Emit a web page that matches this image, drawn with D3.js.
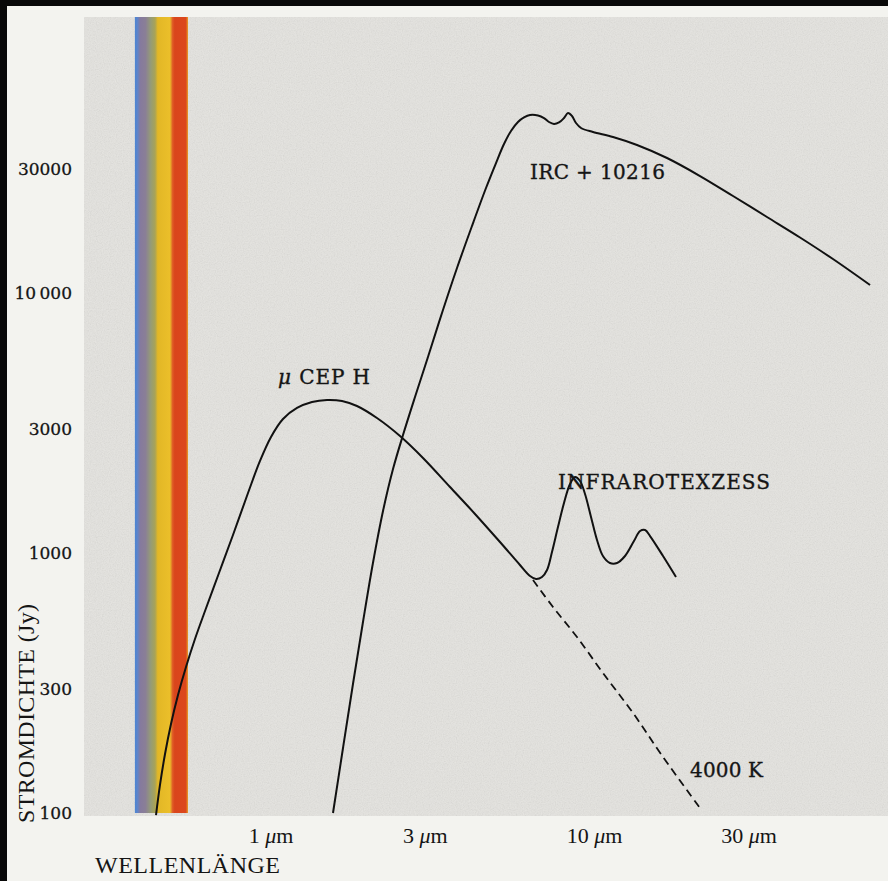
<!DOCTYPE html>
<html>
<head>
<meta charset="utf-8">
<script src="https://cdn.jsdelivr.net/npm/d3@7"></script>
<style>
  html, body { margin: 0; padding: 0; background: #f3f3ef; }
  svg { display: block; }
</style>
</head>
<body>
<div id="chart"></div>
<script>
// ---------- data ----------
const wavelengthTicks = [1, 3, 10, 30];                  // µm
const fluxTicks = [100, 300, 1000, 3000, 10000, 30000];  // Jy
const fluxTickLabels = ["100", "300", "1000", "3000", "10\u2009000", "30000"];

// mu Cep H (observed, with infrared excess)
const muCepWl   = [0.4428, 0.4555, 0.4721, 0.4926, 0.5178, 0.5481, 0.5843, 0.6275, 0.6931, 0.7657, 0.8521, 0.9280, 1.0036, 1.0930, 1.2075, 1.3436, 1.4954, 1.6633, 1.850, 2.133, 2.513, 2.960, 3.587, 4.285, 5.119, 5.901, 6.338, 6.615, 6.902, 7.153, 7.411, 7.733, 8.072, 8.425, 8.730, 9.046, 9.374, 9.782, 10.21, 10.65, 11.19, 11.77, 12.46, 13.28, 13.87, 14.37, 14.89, 16.33, 17.91];
const muCepFlux = [98.2, 128.2, 168.6, 220.0, 284.3, 364.3, 466.9, 598.2, 837.7, 1173, 1701, 2259, 2793, 3276, 3612, 3809, 3877, 3843, 3676, 3305, 2818, 2320, 1794, 1413, 1102, 899.2, 815.7, 794.3, 808.5, 860.2, 1009, 1259, 1557, 1842, 1960, 1892, 1686, 1376, 1122, 973.8, 915.2, 915.2, 973.8, 1112, 1215, 1226, 1162, 973.8, 808.5];

// 4000 K black body continuation (dashed)
const bb4000Wl   = [6.474, 7.464, 8.853, 10.65, 13.19, 16.33, 21.25];
const bb4000Flux = [787, 620, 475, 345.5, 242.5, 164.2, 104.5];

// IRC +10216
const ircWl   = [1.560, 1.6752, 1.7983, 1.931, 2.073, 2.2269, 2.391, 2.5673, 2.796, 3.0665, 3.388, 3.770, 4.194, 4.634, 4.976, 5.267, 5.536, 5.818, 6.073, 6.338, 6.708, 7.001, 7.254, 7.517, 7.790, 8.072, 8.304, 8.545, 8.792, 9.111, 9.922, 11.44, 13.57, 16.80, 21.25, 26.87, 34.21, 43.28, 54.72, 71.24];
const ircFlux = [100, 177.8, 313.4, 542.7, 915.2, 1451, 2104, 2843, 3981, 5673, 8377, 12480, 18100, 25340, 31620, 37420, 41980, 45470, 47320, 48370, 48160, 47100, 45470, 44670, 45270, 47100, 49240, 47950, 45060, 43110, 41610, 39810, 37090, 33050, 28180, 23610, 19600, 16350, 13510, 10730];

// visible band (µm)
const visibleBand = [0.381, 0.556];

// annotations (data coordinates)
const labelText = ["μ CEP H", "IRC + 10216", "INFRAROTEXZESS", "4000 K"];
const labelWl   = [1.055, 6.338, 7.733, 19.79];
const labelFlux = [4467, 27440, 1763, 137.5];

// ---------- drawing ----------
const W = 888, H = 881;
const svg = d3.select("#chart").append("svg").attr("width", W).attr("height", H);

const x = d3.scaleLog().domain([1, 10]).range([270.5, 594.1]);
const y = d3.scaleLog().domain([100, 10000]).range([813, 293]);

const plot = { left: 84, top: 17, right: 888, bottom: 816 };

const defs = svg.append("defs");
const f = defs.append("filter").attr("id", "paper").attr("x", 0).attr("y", 0).attr("width", 1).attr("height", 1);
f.append("feTurbulence").attr("type", "fractalNoise").attr("baseFrequency", 0.85).attr("numOctaves", 2).attr("seed", 4);
f.append("feColorMatrix").attr("type", "matrix")
  .attr("values", "1 0 0 0 0  1 0 0 0 0  1 0 0 0 0  0 0 0 0 0.10");

const grad = defs.append("linearGradient").attr("id", "rainbow")
  .attr("x1", "0%").attr("x2", "100%").attr("y1", "0%").attr("y2", "0%");
[
  [0.00, "#4a85d4"], [0.05, "#5f84c8"], [0.10, "#857a9e"], [0.20, "#8a7f96"],
  [0.30, "#959c76"], [0.38, "#a9a356"], [0.43, "#e2b726"], [0.66, "#ebbf2a"],
  [0.71, "#df5c26"], [0.75, "#d9451c"], [0.96, "#dc471c"], [1.00, "#e8a028"]
].forEach(s => grad.append("stop").attr("offset", s[0]).attr("stop-color", s[1]));

defs.append("clipPath").attr("id", "clip").append("rect")
  .attr("x", plot.left).attr("y", plot.top)
  .attr("width", plot.right - plot.left).attr("height", plot.bottom - plot.top);

// page frame
svg.append("rect").attr("width", W).attr("height", H).attr("fill", "#f3f3ef");
svg.append("rect").attr("x", 0).attr("y", 0).attr("width", W).attr("height", 6).attr("fill", "#080808");
svg.append("rect").attr("x", 0).attr("y", 0).attr("width", 7).attr("height", H).attr("fill", "#080808");

// plot background
svg.append("rect").attr("x", plot.left).attr("y", plot.top)
  .attr("width", plot.right - plot.left).attr("height", plot.bottom - plot.top)
  .attr("fill", "#e4e3df");
svg.append("rect").attr("x", plot.left).attr("y", plot.top)
  .attr("width", plot.right - plot.left).attr("height", plot.bottom - plot.top)
  .attr("filter", "url(#paper)").attr("fill", "#fff");

// visible band
svg.append("rect")
  .attr("x", x(visibleBand[0])).attr("y", plot.top)
  .attr("width", x(visibleBand[1]) - x(visibleBand[0]))
  .attr("height", plot.bottom - 3 - plot.top)
  .attr("fill", "url(#rainbow)");

// curves
const line = d3.line().x(d => x(d[0])).y(d => y(d[1])).curve(d3.curveCatmullRom.alpha(0.5));
const g = svg.append("g").attr("clip-path", "url(#clip)");
g.append("path").datum(d3.zip(muCepWl, muCepFlux)).attr("d", line)
  .attr("fill", "none").attr("stroke", "#111").attr("stroke-width", 2).attr("stroke-linejoin", "round");
g.append("path").datum(d3.zip(bb4000Wl, bb4000Flux)).attr("d", line)
  .attr("fill", "none").attr("stroke", "#111").attr("stroke-width", 1.8).attr("stroke-dasharray", "8,5");
g.append("path").datum(d3.zip(ircWl, ircFlux)).attr("d", line)
  .attr("fill", "none").attr("stroke", "#111").attr("stroke-width", 2).attr("stroke-linejoin", "round");

// x axis
const xAxis = svg.append("g").attr("transform", "translate(0,843)")
  .call(d3.axisBottom(x).tickValues(wavelengthTicks).tickSize(0).tickFormat(d => d + " μm"));
xAxis.select(".domain").remove();
xAxis.selectAll("text")
  .attr("y", 0).attr("dy", 0)
  .attr("font-family", "'Liberation Serif', serif").attr("font-size", 22).attr("fill", "#151515")
  .each(function(d) {
    const t = d3.select(this);
    t.text(null);
    t.append("tspan").text(d + " ");
    t.append("tspan").attr("font-style", "italic").text("μ");
    t.append("tspan").text("m");
  });

// y axis
const yAxis = svg.append("g").attr("transform", "translate(72,0)")
  .call(d3.axisLeft(y).tickValues(fluxTicks).tickSize(0).tickPadding(0)
    .tickFormat((d, i) => fluxTickLabels[i]));
yAxis.select(".domain").remove();
yAxis.selectAll("text")
  .attr("font-family", "'DejaVu Serif', serif").attr("font-size", 17).attr("fill", "#151515")
  .attr("stroke", "#151515").attr("stroke-width", 0.3);

// axis titles
svg.append("text").attr("transform", "translate(34,823) rotate(-90)")
  .attr("font-family", "'Liberation Serif', serif").attr("font-size", 24)
  .attr("textLength", 219).attr("fill", "#151515").text("STROMDICHTE (Jy)");
svg.append("text").attr("x", 95).attr("y", 873)
  .attr("font-family", "'Liberation Serif', serif").attr("font-size", 24)
  .attr("textLength", 185).attr("fill", "#151515").text("WELLENLÄNGE");

// annotations
const labelLen = [92, 135, 212, 73];
labelText.forEach((t, i) => {
  const txt = svg.append("text")
    .attr("x", x(labelWl[i])).attr("y", y(labelFlux[i]))
    .attr("font-family", "'DejaVu Serif', serif").attr("font-size", 20)
    .attr("fill", "#151515").attr("stroke", "#151515").attr("stroke-width", 0.35)
    .attr("textLength", labelLen[i]);
  if (t.startsWith("μ")) {
    txt.append("tspan").attr("font-style", "italic").text("μ");
    txt.append("tspan").text(t.slice(1));
  } else {
    txt.text(t);
  }
});
</script>
</body>
</html>
